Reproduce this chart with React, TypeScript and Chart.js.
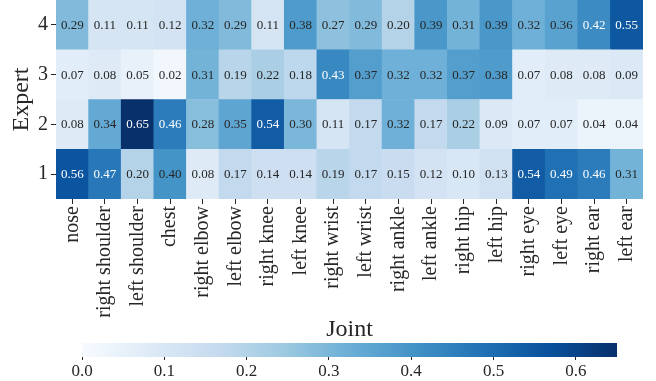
import React, { useEffect, useRef } from "react";
import { Chart, registerables } from "chart.js";

Chart.register(...registerables);

const joints = [
  "nose", "right shoulder", "left shoulder", "chest", "right elbow", "left elbow",
  "right knee", "left knee", "right wrist", "left wrist", "right ankle", "left ankle",
  "right hip", "left hip", "right eye", "left eye", "right ear", "left ear",
];
const expertLabels = ["1", "2", "3", "4"];
const expert1 = [0.56, 0.47, 0.20, 0.40, 0.08, 0.17, 0.14, 0.14, 0.19, 0.17, 0.15, 0.12, 0.10, 0.13, 0.54, 0.49, 0.46, 0.31];
const expert2 = [0.08, 0.34, 0.65, 0.46, 0.28, 0.35, 0.54, 0.30, 0.11, 0.17, 0.32, 0.17, 0.22, 0.09, 0.07, 0.07, 0.04, 0.04];
const expert3 = [0.07, 0.08, 0.05, 0.02, 0.31, 0.19, 0.22, 0.18, 0.43, 0.37, 0.32, 0.32, 0.37, 0.38, 0.07, 0.08, 0.08, 0.09];
const expert4 = [0.29, 0.11, 0.11, 0.12, 0.32, 0.29, 0.11, 0.38, 0.27, 0.29, 0.20, 0.39, 0.31, 0.39, 0.32, 0.36, 0.42, 0.55];
const expertValues = [expert1, expert2, expert3, expert4];
const colorbarTicks = [0, 0.1, 0.2, 0.3, 0.4, 0.5, 0.6];
const vmin = 0;
const vmax = 0.65;

const blues = [
  [247, 251, 255], [222, 235, 247], [198, 219, 239], [158, 202, 225], [107, 174, 214],
  [66, 146, 198], [33, 113, 181], [8, 81, 156], [8, 48, 107],
];

function bluesColor(v: number): string {
  let t = (v - vmin) / (vmax - vmin);
  t = Math.max(0, Math.min(1, t));
  const p = t * (blues.length - 1);
  const i = Math.min(blues.length - 2, Math.floor(p));
  const f = p - i;
  const a = blues[i], b = blues[i + 1];
  const c = a.map((x, k) => Math.round(x + (b[k] - x) * f));
  return `rgb(${c[0]},${c[1]},${c[2]})`;
}

const TEXT = "#262626";
const FONT = "'Liberation Serif', 'Times New Roman', serif";

export default function App() {
  const heatRef = useRef<HTMLCanvasElement>(null);
  const barRef = useRef<HTMLCanvasElement>(null);

  useEffect(() => {
    document.body.style.margin = "0";
    Chart.defaults.font.family = FONT;
    Chart.defaults.color = TEXT;

    const annotate = {
      id: "annotate",
      afterDatasetsDraw(chart: any) {
        const ctx = chart.ctx;
        ctx.save();
        ctx.font = `13px ${FONT}`;
        ctx.textAlign = "center";
        ctx.textBaseline = "middle";
        chart.data.datasets.forEach((ds: any, i: number) => {
          const meta = chart.getDatasetMeta(i);
          meta.data.forEach((bar: any, j: number) => {
            const v = ds.values[j];
            const props = bar.getProps(["x", "y", "base"], true);
            ctx.fillStyle = v >= 0.415 ? "#ffffff" : TEXT;
            ctx.fillText(v.toFixed(2), props.x, (props.y + props.base) / 2 + 0.5);
          });
        });
        ctx.restore();
      },
    };

    const heat = new Chart(heatRef.current!, {
      type: "bar",
      data: {
        labels: joints,
        datasets: expertValues.map((vals, r) => ({
          label: expertLabels[r],
          values: vals,
          data: vals.map(() => [r + 0.5, r + 1.5]),
          backgroundColor: vals.map(bluesColor),
          borderWidth: 0,
          barPercentage: 1,
          categoryPercentage: 1,
          grouped: false,
        })) as any,
      },
      options: {
        animation: false,
        responsive: false,
        maintainAspectRatio: false,
        layout: { padding: { left: 0, right: 13, top: 0, bottom: 0 } },
        plugins: { legend: { display: false }, tooltip: { enabled: false } },
        scales: {
          x: {
            type: "category",
            offset: true,
            grid: { offset: false, drawOnChartArea: false, drawTicks: true, tickLength: 5, tickColor: TEXT, tickWidth: 1 },
            border: { display: false },
            ticks: { minRotation: 90, maxRotation: 90, autoSkip: false, padding: 2, font: { size: 20, family: FONT }, color: TEXT },
            title: { display: true, text: "Joint", font: { size: 24, family: FONT }, color: TEXT, padding: { top: 0, bottom: 4 } },
            afterFit: (s: any) => { s.height = 348 - 199; s.paddingLeft = 0; s.paddingRight = 0; },
          },
          y: {
            type: "linear",
            min: 0.5,
            max: 4.5,
            afterBuildTicks: (s: any) => { s.ticks = expertLabels.map((_, i) => ({ value: i + 1 })); },
            grid: { drawOnChartArea: false, drawTicks: true, tickLength: 5, tickColor: TEXT, tickWidth: 1 },
            border: { display: false },
            ticks: { padding: 3, font: { size: 20, family: FONT }, color: TEXT, callback: (v: any) => expertLabels[Math.round(v) - 1] },
            title: { display: true, text: "Expert", font: { size: 24, family: FONT }, color: TEXT, padding: { top: 7, bottom: 0 } },
            afterFit: (s: any) => { s.width = 56; s.paddingTop = 0; s.paddingBottom = 0; },
          },
        },
      } as any,
      plugins: [annotate],
    });

    const cbar = new Chart(barRef.current!, {
      type: "bar",
      data: {
        labels: [""],
        datasets: [{
          data: [[vmin, vmax]] as any,
          backgroundColor: (c: any) => {
            const { ctx, chartArea } = c.chart;
            if (!chartArea) return bluesColor(0.3);
            const x0 = c.chart.scales.x.getPixelForValue(vmin);
            const x1 = c.chart.scales.x.getPixelForValue(vmax);
            const g = ctx.createLinearGradient(x0, 0, x1, 0);
            blues.forEach((b, i) => g.addColorStop(i / (blues.length - 1), `rgb(${b[0]},${b[1]},${b[2]})`));
            return g;
          },
          borderWidth: 0,
          barPercentage: 1,
          categoryPercentage: 1,
        }],
      },
      options: {
        animation: false,
        responsive: false,
        maintainAspectRatio: false,
        indexAxis: "y",
        layout: { padding: { left: 82, right: 39, top: 7, bottom: 0 } },
        plugins: { legend: { display: false }, tooltip: { enabled: false } },
        scales: {
          x: {
            type: "linear",
            min: vmin,
            max: vmax,
            afterBuildTicks: (s: any) => { s.ticks = colorbarTicks.map((v) => ({ value: v })); },
            grid: { drawOnChartArea: false, drawTicks: true, tickLength: 3, tickColor: TEXT, tickWidth: 1 },
            border: { display: false },
            ticks: { padding: 1, maxRotation: 0, font: { size: 17, family: FONT }, color: TEXT, callback: (v: any) => Number(v).toFixed(1) },
            afterFit: (s: any) => { s.height = 45 - 21; s.paddingLeft = 0; s.paddingRight = 0; },
          },
          y: { type: "category", display: false, offset: true },
        },
      } as any,
    });

    return () => {
      heat.destroy();
      cbar.destroy();
    };
  }, []);

  return (
    <div style={{ position: "relative", width: 656, height: 381, background: "#fff" }}>
      <canvas ref={heatRef} width={656} height={348} style={{ position: "absolute", left: 0, top: 0 }} />
      <canvas ref={barRef} width={656} height={45} style={{ position: "absolute", left: 0, top: 336 }} />
    </div>
  );
}
